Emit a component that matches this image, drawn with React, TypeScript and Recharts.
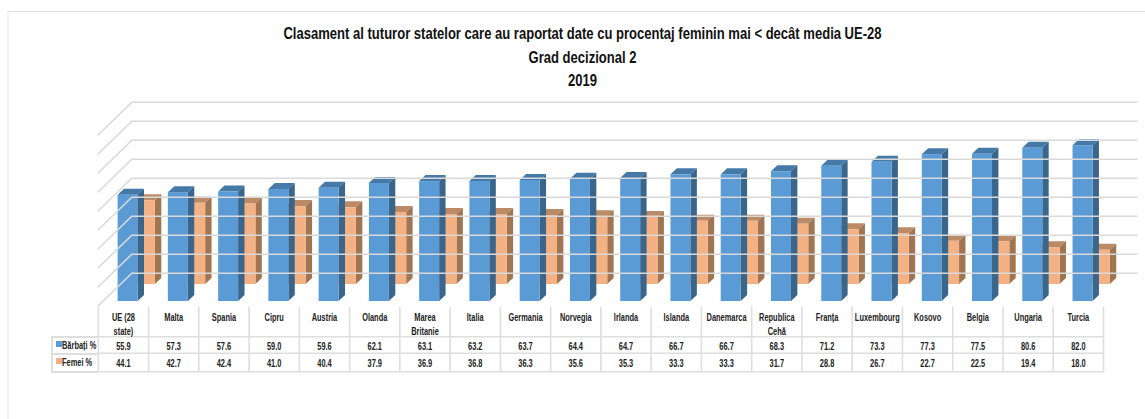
import { BarChart, Bar, XAxis, YAxis, ReferenceLine } from "recharts";

const categories = [
  "UE (28\nstate)", "Malta", "Spania", "Cipru", "Austria", "Olanda", "Marea\nBritanie", "Italia", "Germania", "Norvegia",
  "Irlanda", "Islanda", "Danemarca", "Republica\nCehă", "Franța", "Luxembourg", "Kosovo", "Belgia", "Ungaria", "Turcia",
];
const barbati = [55.9, 57.3, 57.6, 59.0, 59.6, 62.1, 63.1, 63.2, 63.7, 64.4, 64.7, 66.7, 66.7, 68.3, 71.2, 73.3, 77.3, 77.5, 80.6, 82.0];
const femei = [44.1, 42.7, 42.4, 41.0, 40.4, 37.9, 36.9, 36.8, 36.3, 35.6, 35.3, 33.3, 33.3, 31.7, 28.8, 26.7, 22.7, 22.5, 19.4, 18.0];
const gridTicks = [0, 10, 20, 30, 40, 50, 60, 70, 80, 90];
const titleLines = ["Clasament al tuturor statelor care au raportat date cu procentaj feminin mai < decât media UE-28", "Grad decizional 2", "2019"];

const data = categories.map((name, i) => ({ name, barbati: barbati[i], femei: femei[i] }));

const FONT = '"Liberation Sans", sans-serif';
const BORDER = "#dedede";

function Box3D({ x, y, width, height, dx, dy, front, top, side }: any) {
  const l = x + dx;
  const r = l + width;
  const t = y + dy;
  const b = t + height;
  const d = 6.4;
  const h = 6;
  return (
    <g>
      <polygon points={`${l},${t} ${r},${t} ${r + d},${t - h} ${l + d},${t - h}`} fill={top} />
      <polygon points={`${r},${t} ${r + d},${t - h} ${r + d},${b - h} ${r},${b}`} fill={side} />
      <rect x={l} y={t} width={width} height={height} fill={front} />
    </g>
  );
}

const BlueBar = (p: any) => <Box3D {...p} dx={4.3} dy={0} front="#5b9bd5" top="#4479a8" side="#3a668c" />;
const OrangeBar = (p: any) => <Box3D {...p} dx={21.6} dy={-17} front="#f4b183" top="#bd8a66" side="#9f7552" />;

function WallLine({ x1, y1, x2 }: any) {
  const fy = y1 + 5.2;
  const by = y1 - 27.8;
  return (
    <polyline
      points={`${x1 - 0.5},${fy} ${x1 + 33.5},${by} ${x2 + 34},${by}`}
      fill="none"
      stroke="#d9d9d9"
      strokeWidth={1.6}
    />
  );
}

function Narrow({ x, y, children }: any) {
  return (
    <text
      transform={`translate(${x},${y}) scale(0.675,1)`}
      fontFamily={FONT}
      fontSize={11}
      fontWeight={700}
      fill="#222"
      textAnchor="middle"
    >
      {children}
    </text>
  );
}

function TableTick({ x, y, payload, index }: any) {
  const w = 50.26;
  const left = x - w / 2;
  const top = 306.7 - y;
  const lines = String(payload.value).split("\n");
  return (
    <g transform={`translate(0,${y})`}>
      <g stroke={BORDER} strokeWidth={1.6}>
        <line x1={left + w} x2={left + w} y1={top} y2={65 + top} />
        {index === 0 && <line x1={left} x2={left} y1={top} y2={65 + top} />}
        <line x1={left} x2={left + w} y1={30 + top} y2={30 + top} />
        <line x1={left} x2={left + w} y1={46.6 + top} y2={46.6 + top} />
        <line x1={left} x2={left + w} y1={65 + top} y2={65 + top} />
      </g>
      {lines.map((s, i) => (
        <Narrow key={s} x={x} y={top + 14.5 + i * 14}>{s}</Narrow>
      ))}
      <Narrow x={x} y={top + 43}>{barbati[index].toFixed(1)}</Narrow>
      <Narrow x={x} y={top + 60.5}>{femei[index].toFixed(1)}</Narrow>
    </g>
  );
}

function RowHeaders() {
  const cell = { position: "absolute" as const, left: 51, width: 47, boxSizing: "border-box" as const, borderLeft: `2px solid ${BORDER}`, borderTop: `2px solid ${BORDER}`, fontFamily: FONT, fontSize: 11, fontWeight: 700, color: "#222", whiteSpace: "nowrap" as const };
  const swatch = { position: "absolute" as const, left: 3, top: 3, width: 6, height: 6 };
  const label = { position: "absolute" as const, left: 9, top: 0, transform: "scaleX(0.675)", transformOrigin: "left center" };
  return (
    <>
      <div style={{ ...cell, top: 336, height: 17, lineHeight: "15px" }}>
        <span style={{ ...swatch, background: "#5b9bd5" }} />
        <span style={label}>Bărbați %</span>
      </div>
      <div style={{ ...cell, top: 352.5, height: 20, borderBottom: `2px solid ${BORDER}`, lineHeight: "15px" }}>
        <span style={{ ...swatch, background: "#f4b183" }} />
        <span style={label}>Femei %</span>
      </div>
    </>
  );
}

export default function App() {
  return (
    <div style={{ position: "absolute", left: 0, top: 0, width: 1145, height: 419, background: "#fff", overflow: "hidden" }}>
      <div style={{ position: "absolute", left: 7, top: 11, right: 0, bottom: 0, borderTop: "1.5px solid #e0e0e0", borderLeft: "2px solid #f2f2f2" }} />
      <div style={{ position: "absolute", left: 0, width: 1165, top: 22, textAlign: "center", fontFamily: FONT, fontSize: 17, fontWeight: 700, lineHeight: "23.5px", color: "#111", transform: "scaleX(0.767)" }}>
        {titleLines.map((t) => (
          <div key={t}>{t}</div>
        ))}
      </div>
      <div style={{ position: "absolute", left: 0, top: 0 }}>
        <BarChart
          width={1145}
          height={419}
          data={data}
          margin={{ top: 130, right: 41.5, bottom: 0, left: 98.3 }}
          barSize={20}
          barGap={-20}
        >
          <XAxis dataKey="name" height={118} axisLine={false} tickLine={false} interval={0} tick={<TableTick />} />
          <YAxis hide domain={[0, 90]} ticks={gridTicks} />
          {gridTicks.map((t) => (
            <ReferenceLine key={t} y={t} shape={<WallLine />} />
          ))}
          <Bar dataKey="femei" isAnimationActive={false} shape={<OrangeBar />} />
          <Bar dataKey="barbati" isAnimationActive={false} shape={<BlueBar />} />
        </BarChart>
      </div>
      <RowHeaders />
    </div>
  );
}
